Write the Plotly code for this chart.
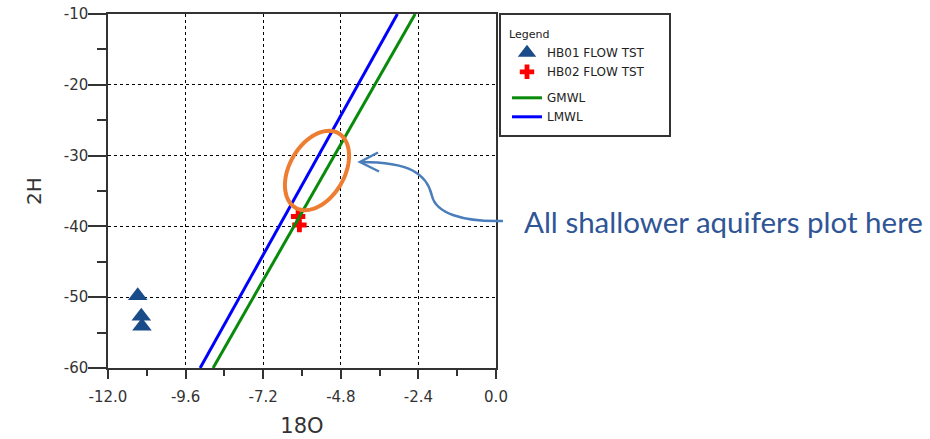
import numpy as np
import plotly.graph_objects as go

# ---------------- data ----------------
hb01_o18 = [-11.08, -10.97, -10.95]
hb01_h2 = [-49.8, -52.7, -54.1]

hb02_o18 = [-6.12, -6.08]
hb02_h2 = [-38.6, -39.8]

gmwl_o18 = [-8.75, -2.5]
gmwl_h2 = [-60, -10]

lmwl_o18 = [-9.15, -3.05]
lmwl_h2 = [-60, -10]

x_ticks = [-12.0, -9.6, -7.2, -4.8, -2.4, 0.0]
y_ticks = [-60, -50, -40, -30, -20, -10]

# ---------------- layout geometry (pixels) ----------------
W, H = 930, 439
L, R, T, B = 108, 434, 14, 71
PW, PH = W - L - R, H - T - B
XR = [-12.0, 0.0]
YR = [-60.0, -10.0]


def px_to_paper(px, py):
    return (px - L) / PW, (H - B - py) / PH


fig = go.Figure()

fig.add_trace(go.Scatter(
    x=hb01_o18, y=hb01_h2, mode="markers", name="HB01 FLOW TST",
    marker=dict(symbol="triangle-up", size=17, color="#1b4c8a"),
    legendgroup="pts"))
fig.add_trace(go.Scatter(
    x=hb02_o18, y=hb02_h2, mode="markers", name="HB02 FLOW TST",
    marker=dict(symbol="cross", size=12, color="#ff0000"),
    legendgroup="pts"))
fig.add_trace(go.Scatter(
    x=gmwl_o18, y=gmwl_h2, mode="lines", name="GMWL",
    line=dict(color="#0a8a0a", width=3), legendgroup="lines"))
fig.add_trace(go.Scatter(
    x=lmwl_o18, y=lmwl_h2, mode="lines", name="LMWL",
    line=dict(color="#0000ff", width=3), legendgroup="lines"))

# ellipse (orange) around the shallow-aquifer zone, built in pixel space
cx, cy, a, b, th = 317, 170.5, 43, 27.5, np.deg2rad(60)
t = np.linspace(0, 2 * np.pi, 73)
ex = cx + a * np.cos(t) * np.cos(th) + b * np.sin(t) * np.sin(th)
ey = cy - a * np.cos(t) * np.sin(th) + b * np.sin(t) * np.cos(th)
pts = [px_to_paper(u, v) for u, v in zip(ex, ey)]
epath = "M " + " L ".join(f"{u:.5f},{v:.5f}" for u, v in pts) + " Z"
fig.add_shape(type="path", path=epath, xref="paper", yref="paper",
              line=dict(color="#ed7d31", width=4))


# curved arrow
def P(px, py):
    u, v = px_to_paper(px, py)
    return f"{u:.5f},{v:.5f}"


apath = (f"M {P(503, 221)} C {P(462, 222)} {P(436, 213)} {P(432, 196)} "
         f"C {P(427, 174)} {P(410, 162)} {P(361, 162)}")
fig.add_shape(type="path", path=apath, xref="paper", yref="paper",
              line=dict(color="#4a7ebb", width=2.5))
hpath = f"M {P(378, 152.5)} L {P(360, 162)} L {P(379, 171.5)}"
fig.add_shape(type="path", path=hpath, xref="paper", yref="paper",
              line=dict(color="#4a7ebb", width=2.5))

# legend box
lx0, ly0 = px_to_paper(500, 136)
lx1, ly1 = px_to_paper(670, 14)
fig.add_shape(type="rect", xref="paper", yref="paper",
              x0=lx0, y0=ly0, x1=lx1, y1=ly1,
              line=dict(color="#333333", width=2), fillcolor="rgba(0,0,0,0)")

tx, ty = px_to_paper(522, 221)
fig.add_annotation(x=tx, y=ty, xref="paper", yref="paper",
                   text="All shallower aquifers plot here", showarrow=False,
                   xanchor="left", yanchor="middle",
                   font=dict(family="Lato", size=29.5, color="#2f5597"))

lgx, lgy = px_to_paper(507, 24)
fig.update_layout(
    width=W, height=H,
    margin=dict(l=L, r=R, t=T, b=B, autoexpand=False),
    plot_bgcolor="white", paper_bgcolor="white",
    showlegend=True,
    legend=dict(
        x=lgx, y=lgy, xanchor="left", yanchor="top",
        title=dict(text="Legend", font=dict(size=11, color="#222",
                                             family="DejaVu Sans")),
        font=dict(size=12, color="#222", family="DejaVu Sans"),
        tracegroupgap=7, bgcolor="rgba(0,0,0,0)", borderwidth=0),
    font=dict(family="DejaVu Sans", color="#333"),
)

fig.update_xaxes(
    range=XR, tickmode="array", tickvals=x_ticks,
    ticktext=[f"{v:.1f}" for v in x_ticks],
    ticks="outside", ticklen=9, tickwidth=1.5, tickcolor="#333",
    minor=dict(ticks="outside", ticklen=6, dtick=1.2, tick0=0,
               tickcolor="#333", tickwidth=1.5, showgrid=False),
    showline=True, linecolor="#333", linewidth=1.5, mirror=True,
    showgrid=True, gridcolor="#000", griddash="dot", gridwidth=1,
    zeroline=False, ticklabelstandoff=5, automargin=False,
    tickfont=dict(size=15, color="#333", family="DejaVu Sans"),
    title=dict(text="18O", font=dict(size=21, color="#333",
                                     family="DejaVu Sans"), standoff=14),
)
fig.update_yaxes(
    range=YR, tickmode="array", tickvals=y_ticks,
    ticktext=[str(v) for v in y_ticks],
    ticks="outside", ticklen=18, tickwidth=1.5, tickcolor="#333",
    minor=dict(ticks="outside", ticklen=9, dtick=5, tick0=0,
               tickcolor="#333", tickwidth=1.5, showgrid=False),
    showline=True, linecolor="#333", linewidth=1.5, mirror=True,
    showgrid=True, gridcolor="#000", griddash="dot", gridwidth=1,
    zeroline=False, ticklabelstandoff=-3, automargin=False,
    tickfont=dict(size=15, color="#333", family="DejaVu Sans"),
    title=dict(text="2H", font=dict(size=20, color="#333",
                                    family="DejaVu Sans"), standoff=17),
)

fig.write_html("out.html")
